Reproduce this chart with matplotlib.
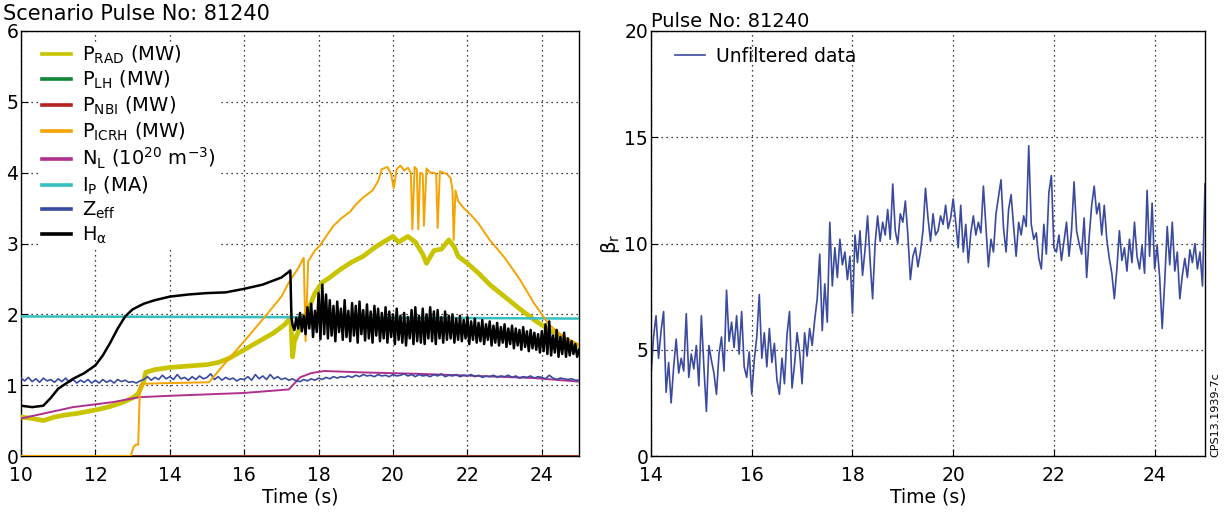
import numpy as np
import matplotlib
matplotlib.use("Agg")
import matplotlib.pyplot as plt

plt.rcParams["font.family"] = ["DejaVu Sans"]
plt.rcParams["mathtext.fontset"] = "dejavusans"
plt.rcParams["mathtext.default"] = "regular"

# ---- left panel: scenario traces ----
prad_t = [10.0, 10.3, 10.6, 10.9, 11.2, 11.5, 11.8, 12.1, 12.4, 12.7, 13.0, 13.15, 13.3, 13.35,
          13.6, 14.0, 14.5, 15.0, 15.3, 15.6, 16.0, 16.4, 16.8, 17.1, 17.25, 17.3, 17.35, 17.45,
          17.6, 17.75, 17.9, 18.1, 18.3, 18.6, 18.9, 19.2, 19.5, 19.8, 20.0, 20.15, 20.4, 20.6,
          20.8, 20.9, 21.1, 21.3, 21.5, 21.65, 21.75, 22.0, 22.3, 22.6, 23.0, 23.4, 23.8, 24.2,
          24.6, 25.0]
prad = [0.55, 0.53, 0.50, 0.55, 0.58, 0.60, 0.63, 0.66, 0.70, 0.75, 0.82, 0.88, 1.05, 1.18,
        1.22, 1.25, 1.27, 1.29, 1.32, 1.38, 1.50, 1.62, 1.74, 1.86, 1.96, 1.40, 1.62, 1.75,
        1.95, 2.10, 2.30, 2.45, 2.52, 2.64, 2.74, 2.82, 2.94, 3.04, 3.10, 3.02, 3.10, 3.02,
        2.85, 2.72, 2.90, 2.92, 3.05, 2.95, 2.82, 2.72, 2.58, 2.42, 2.25, 2.08, 1.92, 1.78,
        1.66, 1.55]

icrh_t = [10.0, 12.95, 13.02, 13.08, 13.15, 13.2, 13.3, 14.0, 15.0, 15.05, 15.5, 16.0, 16.5,
          17.0, 17.2, 17.45, 17.6, 17.65, 17.72, 17.78, 17.9, 18.05, 18.2, 18.4, 18.6, 18.85,
          19.0, 19.2, 19.45, 19.6, 19.7, 19.85, 19.95, 20.02, 20.1, 20.2, 20.3, 20.4, 20.48,
          20.52, 20.58, 20.64, 20.68, 20.73, 20.8, 20.83, 20.9, 21.0, 21.1, 21.16, 21.2, 21.26,
          21.35, 21.45, 21.55, 21.6, 21.63, 21.68, 21.75, 21.9, 22.1, 22.3, 22.6, 23.0, 23.4,
          23.8, 24.2, 24.6, 25.0]
icrh = [0.0, 0.0, 0.12, 0.16, 0.16, 1.0, 1.02, 1.03, 1.04, 1.04, 1.32, 1.62, 1.93,
        2.25, 2.45, 2.65, 2.80, 1.62, 2.75, 2.80, 2.90, 2.98, 3.10, 3.25, 3.35, 3.45,
        3.55, 3.65, 3.75, 3.88, 4.05, 4.08, 3.98, 3.78, 4.05, 4.10, 4.03, 4.07, 4.00,
        3.20, 4.08, 4.05, 3.20, 4.00, 3.98, 3.25, 4.06, 4.00, 4.00, 3.98, 3.22, 4.02,
        4.00, 3.98, 3.92, 3.75, 3.05, 3.75, 3.60, 3.50, 3.40, 3.28, 3.05, 2.80, 2.50,
        2.15, 1.85, 1.68, 1.57]

nl_t = [10.0, 11.4, 12.46, 13.18, 14.0, 15.0, 16.0, 17.2, 17.5, 17.8, 18.15, 19.2, 20.7, 22.8, 23.8, 25.0]
nl = [0.53, 0.69, 0.76, 0.83, 0.85, 0.87, 0.89, 0.94, 1.11, 1.17, 1.20, 1.18, 1.16, 1.12, 1.10, 1.05]

ip_t = [10.0, 17.0, 25.0]
ip = [1.97, 1.96, 1.94]

plh_t = [10.0, 25.0]
plh = [0.0, 0.0]
pnbi_t = [10.0, 25.0]
pnbi = [0.0, 0.0]

# Zeff sampled every 0.1 s from 10 s
zeff = [1.10, 1.06, 1.11, 1.05, 1.09, 1.04, 1.10, 1.06, 1.08, 1.04,
        1.09, 1.05, 1.10, 1.04, 1.08, 1.03, 1.07, 1.04, 1.08, 1.03,
        1.07, 1.03, 1.08, 1.04, 1.07, 1.03, 1.08, 1.05, 1.07, 1.04,
        1.05, 1.03, 1.06, 1.08, 1.12, 1.07, 1.11, 1.08, 1.14, 1.09,
        1.12, 1.08, 1.15, 1.09, 1.11, 1.07, 1.12, 1.08, 1.13, 1.09,
        1.11, 1.16, 1.08, 1.12, 1.07, 1.11, 1.08, 1.10, 1.06, 1.09,
        1.08, 1.12, 1.07, 1.15, 1.09, 1.13, 1.08, 1.15, 1.09, 1.12,
        1.08, 1.10, 1.07, 1.09, 1.06, 1.05, 1.08, 1.06, 1.09, 1.07,
        1.10, 1.08, 1.11, 1.09, 1.12, 1.10, 1.12, 1.11, 1.13, 1.11,
        1.14, 1.12, 1.15, 1.13, 1.14, 1.12, 1.15, 1.13, 1.14, 1.12,
        1.15, 1.13, 1.14, 1.16, 1.13, 1.15, 1.12, 1.15, 1.13, 1.14,
        1.12, 1.15, 1.13, 1.16, 1.12, 1.14, 1.13, 1.15, 1.12, 1.14,
        1.13, 1.15, 1.12, 1.14, 1.11, 1.13, 1.12, 1.14, 1.11, 1.13,
        1.12, 1.14, 1.11, 1.13, 1.10, 1.12, 1.11, 1.13, 1.10, 1.12,
        1.11, 1.09, 1.14, 1.10, 1.08, 1.10, 1.09, 1.08, 1.09, 1.07,
        1.07]

# H-alpha: smooth part, then fast oscillating part sampled every 0.05 s from 17.3 s
ha_t_smooth = [10.0, 10.3, 10.6, 10.8, 11.0, 11.2, 11.4, 11.7, 12.0, 12.2, 12.4, 12.6, 12.8,
               13.0, 13.3, 13.6, 14.0, 14.5, 15.0, 15.5, 16.0, 16.5, 17.0, 17.2, 17.24, 17.27]
ha_smooth = [0.71, 0.69, 0.71, 0.82, 0.95, 1.02, 1.09, 1.17, 1.28, 1.42, 1.60, 1.80, 1.97,
             2.07, 2.15, 2.20, 2.25, 2.28, 2.30, 2.31, 2.36, 2.42, 2.52, 2.60, 2.62, 1.95]
ha_noisy = [1.85, 1.78, 1.95, 1.80, 2.02, 1.76, 1.98, 1.72, 2.10, 1.80,
            2.15, 1.68, 2.05, 1.75, 2.30, 1.65, 2.42, 1.72, 2.28, 1.66,
            2.20, 1.70, 2.12, 1.62, 2.18, 1.75, 2.08, 1.64, 2.20, 1.68,
            2.05, 1.62, 2.16, 1.70, 2.12, 1.60, 2.18, 1.72, 2.06, 1.63,
            2.14, 1.66, 2.04, 1.60, 2.12, 1.70, 2.08, 1.62, 2.02, 1.66,
            2.10, 1.60, 2.04, 1.68, 2.00, 1.58, 2.08, 1.64, 1.98, 1.60,
            2.02, 1.56, 1.96, 1.66, 2.06, 1.58, 2.10, 1.62, 1.98, 1.60,
            2.08, 1.58, 2.00, 1.66, 2.10, 1.62, 2.04, 1.58, 2.06, 1.66,
            1.96, 1.60, 2.04, 1.64, 1.98, 1.66, 2.00, 1.60, 1.94, 1.64,
            1.98, 1.62, 1.92, 1.66, 1.96, 1.58, 1.90, 1.64, 1.94, 1.60,
            1.88, 1.62, 1.92, 1.58, 1.86, 1.64, 1.90, 1.56, 1.84, 1.60,
            1.88, 1.56, 1.82, 1.60, 1.86, 1.54, 1.80, 1.58, 1.84, 1.52,
            1.80, 1.56, 1.78, 1.50, 1.82, 1.54, 1.76, 1.48, 1.78, 1.52,
            1.74, 1.50, 1.72, 1.46, 1.76, 1.48, 1.86, 1.44, 1.90, 1.42,
            1.70, 1.46, 1.78, 1.40, 1.68, 1.44, 1.74, 1.40, 1.66, 1.42,
            1.62, 1.44, 1.58, 1.40, 1.50]

# ---- right panel: beta_r, sampled every 0.05 s from 14 s ----
beta_r = [3.8, 5.6, 6.6, 4.6, 5.9, 6.8, 3.0, 4.4, 2.5, 4.2, 5.5, 3.9, 4.6, 4.0, 6.7, 3.7, 4.8, 4.1, 5.2, 3.3,
          6.6, 4.2, 2.1, 5.2, 4.5, 3.9, 2.9, 4.8, 5.6, 4.0, 7.8, 5.4, 6.3, 5.1, 6.6, 4.8, 6.8, 4.2, 3.7, 4.9,
          2.9, 4.5, 5.6, 7.6, 4.6, 5.8, 4.2, 6.0, 4.4, 5.3, 3.6, 2.9, 4.6, 3.4, 5.7, 6.8, 3.2, 4.3, 5.8, 4.9,
          3.4, 5.8, 4.7, 6.0, 5.2, 6.4, 7.4, 9.5, 5.9, 8.1, 6.3, 11.0, 8.0, 9.8, 8.4, 10.2, 9.0, 9.6, 8.3, 9.4,
          6.7, 10.4, 9.1, 10.6, 8.5, 9.7, 11.3, 9.2, 7.4, 10.0, 11.3, 10.1, 11.0, 10.4, 11.6, 10.2, 12.8, 10.6, 10.0, 11.4,
          11.0, 12.0, 10.4, 8.3, 9.4, 9.8, 8.9, 9.6, 10.6, 12.6, 11.2, 10.1, 11.4, 10.4, 10.6, 11.3, 10.9, 11.8, 10.7, 11.2,
          12.1, 11.0, 9.8, 11.8, 9.6, 10.9, 9.1, 10.5, 11.3, 10.4, 11.0, 10.5, 12.7, 10.8, 8.9, 10.2, 9.6, 11.4, 12.2, 13.0,
          10.7, 9.6, 11.6, 12.3, 10.8, 9.4, 11.0, 10.4, 11.3, 10.8, 14.6, 10.9, 10.2, 10.5, 9.3, 8.8, 10.9, 9.5, 12.4, 13.2,
          9.8, 9.6, 10.4, 9.2, 10.1, 11.0, 9.4, 10.6, 12.9, 10.6, 10.0, 9.5, 11.2, 8.4, 10.3, 11.8, 12.7, 11.4, 11.9, 10.4,
          11.8, 10.2, 9.3, 8.6, 7.4, 8.8, 10.6, 9.2, 9.8, 8.7, 10.2, 9.1, 11.0, 9.4, 8.8, 9.9, 8.6, 12.5, 9.4, 11.9,
          8.8, 9.9, 8.4, 6.0, 8.2, 10.8, 9.0, 11.0, 8.7, 9.6, 7.4, 8.5, 9.3, 8.4, 9.7, 9.1, 10.0, 8.8, 9.6, 8.0,
          12.8]

left_xticks = [10, 12, 14, 16, 18, 20, 22, 24]
right_xticks = [14, 16, 18, 20, 22, 24]

zeff_t = np.linspace(10.0, 25.0, len(zeff))
ha_t = np.concatenate([ha_t_smooth, np.linspace(17.3, 25.0, len(ha_noisy))])
ha = np.concatenate([ha_smooth, ha_noisy])
beta_t = np.linspace(14.0, 25.0, len(beta_r))

fig = plt.figure(figsize=(12.25, 5.16), dpi=100)
ax1 = fig.add_axes([21 / 1225, 60 / 516, 558 / 1225, 425 / 516])
ax2 = fig.add_axes([651 / 1225, 60 / 516, 554 / 1225, 425 / 516])

grid_kw = dict(color="black", linestyle=(0, (1, 3)), linewidth=0.9)

ax1.plot(prad_t, prad, color="#c8c400", lw=3.4, label=r"P$_{RAD}$ (MW)", zorder=3)
ax1.plot(plh_t, plh, color="#13853a", lw=1.5, label=r"P$_{LH}$ (MW)", zorder=3)
ax1.plot(pnbi_t, pnbi, color="#b52020", lw=1.8, label=r"P$_{NBI}$ (MW)", zorder=3)
ax1.plot(icrh_t, icrh, color="#f5a300", lw=1.4, label=r"P$_{ICRH}$ (MW)", zorder=4)
ax1.plot(nl_t, nl, color="#b0308e", lw=1.4, label=r"N$_L$ (10$^{20}$ m$^{-3}$)", zorder=3)
ax1.plot(ip_t, ip, color="#35bfc0", lw=1.8, label=r"I$_P$ (MA)", zorder=3)
ax1.plot(zeff_t, zeff, color="#3a4aa0", lw=1.2, label=r"Z$_{eff}$", zorder=3)
ax1.plot(ha_t, ha, color="black", lw=1.8, label=r"H$_{α}$", zorder=5)

ax1.set_xlim(10, 25)
ax1.set_ylim(0, 6)
ax1.set_xticks(left_xticks)
ax1.set_yticks(range(0, 7))
ax1.grid(True, **grid_kw)
ax1.set_xlabel("Time (s)", fontsize=13.5, labelpad=2)
fig.text(3 / 1225, 1 - 14 / 516, "Scenario Pulse No: 81240", fontsize=15, va="center", ha="left")

leg1 = ax1.legend(loc="upper left", bbox_to_anchor=(0.035, 0.975), frameon=True, fontsize=14,
                  handlelength=1.45, handletextpad=0.6, labelspacing=0.17, borderaxespad=0,
                  borderpad=0.1, fancybox=False)
leg1.get_frame().set_linewidth(0)
leg1.get_frame().set_facecolor("white")
leg1.get_frame().set_alpha(1)
for h in leg1.get_lines():
    h.set_linewidth(2.6)
leg1.set_zorder(10)

ax2.plot(beta_t, beta_r, color="#3a4a9e", lw=1.2, label="Unfiltered data")
ax2.set_xlim(14, 25)
ax2.set_ylim(0, 20)
ax2.set_xticks(right_xticks)
ax2.set_yticks([0, 5, 10, 15, 20])
ax2.grid(True, **grid_kw)
ax2.set_xlabel("Time (s)", fontsize=13.5, labelpad=2)
ax2.set_ylabel(r"β$_r$", fontsize=14, labelpad=2)
ax2.set_title("Pulse No: 81240", loc="left", fontsize=14, pad=3)
ax2.legend(loc="upper left", bbox_to_anchor=(0.03, 0.98), frameon=False, fontsize=13.5,
           handlelength=1.6, handletextpad=0.6, borderaxespad=0)

for ax in (ax1, ax2):
    ax.tick_params(direction="in", length=5, width=0.8, labelsize=13.5,
                   top=False, right=False)
    ax.tick_params(axis="x", pad=7)
    ax.tick_params(axis="y", pad=2)
    for s in ax.spines.values():
        s.set_linewidth(1.0)

fig.text(1215 / 1225, 1 - 415 / 516, "CPS13.1939-7c", rotation=90, fontsize=8,
         va="center", ha="center")

fig.savefig("out.png", dpi=100)
